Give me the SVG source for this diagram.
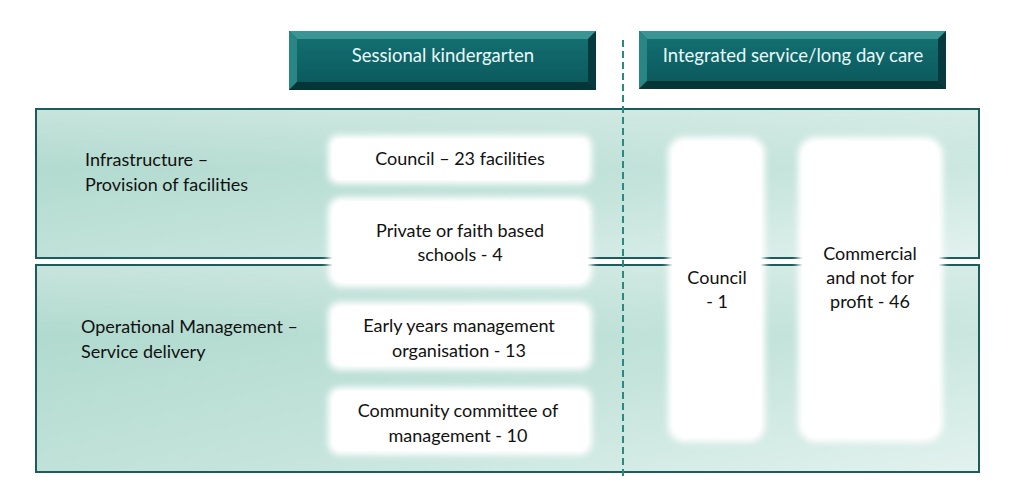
<svg xmlns="http://www.w3.org/2000/svg" width="1033" height="484" viewBox="0 0 1033 484">
<defs>
<style>
.t{font-family:Lato,"Open Sans","Liberation Sans",sans-serif;font-size:18px;fill:#111;}
.c{text-anchor:middle;}
.h{font-family:Lato,"Open Sans","Liberation Sans",sans-serif;font-size:18.5px;fill:#e6fafa;text-anchor:middle;}
.band{stroke:#1d5c5c;stroke-width:2;}
.wb{fill:#fff;}
</style>
<linearGradient id="g1" x1="0" y1="0" x2="1" y2="1">
<stop offset="0" stop-color="#a9d6c9"/>
<stop offset="0.6" stop-color="#c5e4dc"/>
<stop offset="1" stop-color="#e3f2ee"/>
</linearGradient>
<linearGradient id="g2" x1="0" y1="0" x2="0" y2="1">
<stop offset="0" stop-color="#ffffff" stop-opacity="0.35"/>
<stop offset="1" stop-color="#ffffff" stop-opacity="0"/>
</linearGradient>
<filter id="soft" x="-20%" y="-20%" width="140%" height="140%">
<feGaussianBlur stdDeviation="3"/>
</filter>
<linearGradient id="face" x1="0" y1="0" x2="0" y2="1">
<stop offset="0" stop-color="#136e70"/>
<stop offset="1" stop-color="#0b5a5e"/>
</linearGradient>
</defs>

<g id="band-infrastructure">
<rect class="band" x="36" y="109" width="943" height="149" fill="url(#g1)"/>
<rect x="37" y="110" width="941" height="60" fill="url(#g2)"/>
<text class="t" x="85" y="166">Infrastructure –</text>
<text class="t" x="85" y="191">Provision of facilities</text>
</g>
<g id="band-operational">
<rect class="band" x="36" y="265" width="943" height="207" fill="url(#g1)"/>
<rect x="37" y="266" width="941" height="70" fill="url(#g2)"/>
<text class="t" x="81" y="333">Operational Management –</text>
<text class="t" x="81" y="358">Service delivery</text>
</g>

<g id="connectors">
<line x1="623" y1="40" x2="623" y2="478" stroke="#2a8a7e" stroke-width="2" stroke-dasharray="7,4"/>
</g>

<g id="header-sessional">
<rect x="289" y="31" width="307" height="59" fill="#0a4f53"/>
<polygon points="289,31 596,31 588,39 297,39" fill="#3c9595"/>
<polygon points="289,31 297,39 297,82 289,90" fill="#2a8585"/>
<polygon points="596,31 596,90 588,82 588,39" fill="#073a3e"/>
<polygon points="289,90 596,90 588,82 297,82" fill="#063538"/>
<rect x="297" y="39" width="291" height="43" fill="url(#face)"/>
<text class="h" x="443" y="62">Sessional kindergarten</text>
</g>
<g id="header-integrated">
<rect x="639" y="31" width="307" height="58" fill="#0a4f53"/>
<polygon points="639,31 946,31 938,39 647,39" fill="#3c9595"/>
<polygon points="639,31 647,39 647,81 639,89" fill="#2a8585"/>
<polygon points="946,31 946,89 938,81 938,39" fill="#073a3e"/>
<polygon points="639,89 946,89 938,81 647,81" fill="#063538"/>
<rect x="647" y="39" width="291" height="42" fill="url(#face)"/>
<text class="h" x="793" y="62">Integrated service/long day care</text>
</g>

<g id="node-council-23">
<rect class="wb" x="328" y="135" width="264" height="49" rx="10" filter="url(#soft)"/>
<rect class="wb" x="332" y="139" width="256" height="41" rx="8"/>
<text class="t c" x="460" y="165">Council – 23 facilities</text>
</g>
<g id="node-private">
<rect class="wb" x="328" y="197" width="264" height="90" rx="14" filter="url(#soft)"/>
<rect class="wb" x="332" y="201" width="256" height="82" rx="12"/>
<text class="t c" x="460" y="237">Private or faith based</text>
<text class="t c" x="460" y="261">schools - 4</text>
</g>
<g id="node-early-years">
<rect class="wb" x="328" y="302" width="264" height="68" rx="12" filter="url(#soft)"/>
<rect class="wb" x="332" y="306" width="256" height="60" rx="10"/>
<text class="t c" x="459" y="332">Early years management</text>
<text class="t c" x="459" y="357">organisation - 13</text>
</g>
<g id="node-community">
<rect class="wb" x="328" y="387" width="264" height="68" rx="12" filter="url(#soft)"/>
<rect class="wb" x="332" y="391" width="256" height="60" rx="10"/>
<text class="t c" x="458" y="417">Community committee of</text>
<text class="t c" x="458" y="442">management - 10</text>
</g>
<g id="node-council-1">
<rect class="wb" x="668" y="137" width="97" height="305" rx="16" filter="url(#soft)"/>
<rect class="wb" x="672" y="141" width="89" height="297" rx="14"/>
<text class="t c" x="717" y="284">Council</text>
<text class="t c" x="717" y="308">- 1</text>
</g>
<g id="node-commercial">
<rect class="wb" x="798" y="137" width="145" height="305" rx="18" filter="url(#soft)"/>
<rect class="wb" x="802" y="141" width="137" height="297" rx="16"/>
<text class="t c" x="870" y="260">Commercial</text>
<text class="t c" x="870" y="284">and not for</text>
<text class="t c" x="870" y="308">profit - 46</text>
</g>
</svg>
